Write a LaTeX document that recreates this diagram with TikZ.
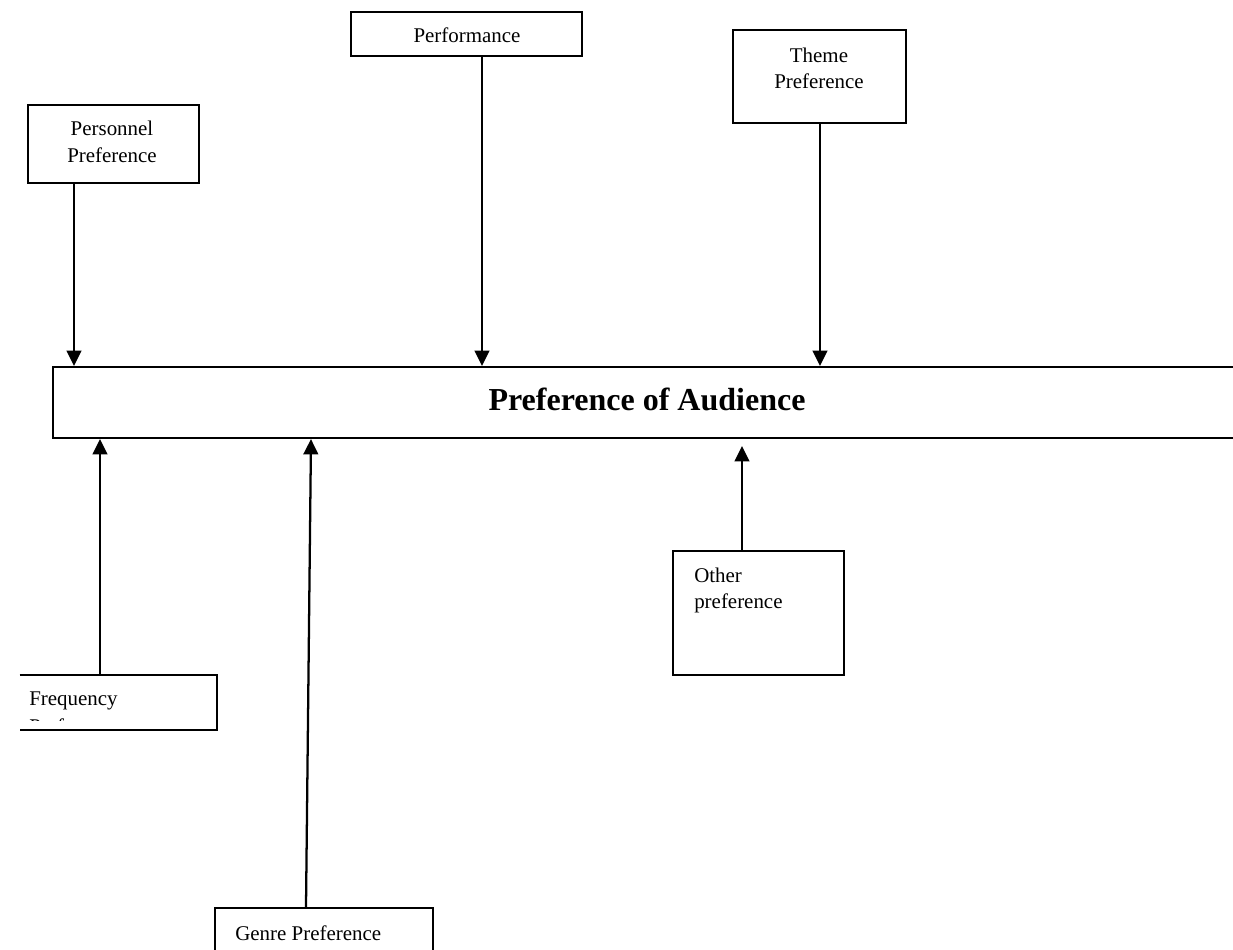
\documentclass[tikz,border=0pt]{standalone}
\usepackage{fontspec}
\setmainfont{Liberation Serif}
\usetikzlibrary{arrows.meta,calc}
\begin{document}
\begin{tikzpicture}[x=0.75pt,y=-0.75pt,
  box/.style={draw, line width=1.6pt, inner sep=0pt},
  lbl/.style={font=\fontsize{15.7pt}{20.25pt}\selectfont, inner sep=0pt, anchor=base},
  lblw/.style={lbl, anchor=base west},
  arr/.style={line width=1.7pt, -{Triangle[length=11.5pt,width=11pt]}}]
\useasboundingbox (0,0) rectangle (1233,950);
\clip (0,0) rectangle (1233,950);
% boxes
\node[box, minimum width={231*0.75pt}, minimum height={44*0.75pt}] (perf) at (466.5,34) {};
\node[box, minimum width={173*0.75pt}, minimum height={93*0.75pt}] (theme) at (819.5,76.5) {};
\node[box, minimum width={171*0.75pt}, minimum height={78*0.75pt}] (pers) at (113.5,144) {};
\node[box, minimum width={1192*0.75pt}, minimum height={71*0.75pt}] (main) at (649,402.5) {};
\node[box, minimum width={171*0.75pt}, minimum height={124*0.75pt}] (other) at (758.5,613) {};
\node[box, minimum width={218*0.75pt}, minimum height={62*0.75pt}] (genre) at (324,939) {};
\node[draw=none, inner sep=0pt, minimum width={197*0.75pt}, minimum height={55*0.75pt}] (freq) at (118.5,702.5) {};
\draw[line width=1.6pt] (freq.north west) -- (freq.north east) -- (freq.south east) -- (freq.south west);
% texts
\node[lbl] (tperf) at (467,42) {Performance};
\node[lbl] (ttheme1) at (819,62) {Theme};
\node[lbl] (ttheme2) at (819,88) {Preference};
\node[lbl] (tpers1) at (112,135) {Personnel};
\node[lbl] (tpers2) at (112,162) {Preference};
\node[lbl, font=\fontsize{24pt}{29pt}\selectfont\bfseries] (tmain) at (647,410) {Preference of Audience};
\node[lblw] (tother1) at (694,582) {Other};
\node[lblw] (tother2) at (694,608) {preference};
\node[lblw] (tgenre) at (235,940) {Genre Preference};
\begin{scope}
\clip (20,677) rectangle (220,720.5);
\node[lblw] (tfreq1) at (29,705) {Frequency};
\node[lblw] (tfreq2) at (29,733) {Preference};
\end{scope}
% arrows down
\draw[arr] ($(pers.south)+(-39.5,0)$) coordinate (a1) -- (a1 |- main.north);
\draw[arr] ($(perf.south)+(15.5,0)$) coordinate (a2) -- (a2 |- main.north);
\draw[arr] ($(theme.south)+(0.5,0)$) coordinate (a3) -- (a3 |- main.north);
% arrows up
\draw[arr] ($(freq.north)+(-18.5,0)$) coordinate (b1) -- (b1 |- main.south);
\draw[arr] ($(genre.north)+(-18,0)$) -- ($(main.south)+(-338,0)$);
\draw[arr] ($(other.north)+(-16.5,0)$) coordinate (b3) -- ($(b3 |- main.south)+(0,7)$);
\end{tikzpicture}
\end{document}
